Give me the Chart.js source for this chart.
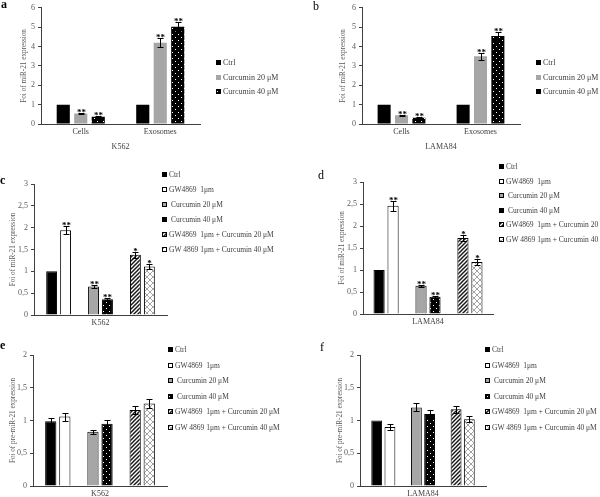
<!DOCTYPE html>
<html>
<head>
<meta charset="utf-8">
<script src="https://cdn.jsdelivr.net/npm/chart.js@4.4.1/dist/chart.umd.min.js"></script>
<style>
  body { margin: 0; background: #fff; }
  #wrap { position: relative; width: 600px; height: 497px; overflow: hidden; }
  #wrap canvas { position: absolute; }
  .tag { position: absolute; font-family: "Liberation Serif", serif; font-size: 12px; line-height: 12px; color: #000; }
</style>
</head>
<body>
<div id="wrap">
  <canvas id="chartA" width="300" height="160" style="left:0;top:0"></canvas>
  <canvas id="chartB" width="300" height="160" style="left:300px;top:0"></canvas>
  <canvas id="chartC" width="300" height="175" style="left:0;top:160px"></canvas>
  <canvas id="chartD" width="300" height="175" style="left:300px;top:160px"></canvas>
  <canvas id="chartE" width="300" height="162" style="left:0;top:335px"></canvas>
  <canvas id="chartF" width="300" height="162" style="left:300px;top:335px"></canvas>
  <div class="tag" style="left:1px;top:-2px;font-weight:bold">a</div>
  <div class="tag" style="left:313px;top:0px">b</div>
  <div class="tag" style="left:0px;top:174px;font-weight:bold">c</div>
  <div class="tag" style="left:318px;top:169px">d</div>
  <div class="tag" style="left:0px;top:339px;font-weight:bold">e</div>
  <div class="tag" style="left:320px;top:341px">f</div>
</div>
<script>
// panels a, b
const abCategories = ["Cells", "Exosomes"];
const abSeries = ["Ctrl", "Curcumin 20 μM", "Curcumin 40 μM"];
const aValues = [[1, 1], [0.54, 4.2], [0.37, 5.02]];
const aErrors = [[0, 0], [0.04, 0.22], [0.04, 0.24]];
const bValues = [[1, 1], [0.45, 3.5], [0.32, 4.54]];
const bErrors = [[0, 0], [0.03, 0.18], [0.03, 0.2]];
const abStars = [["", ""], ["**", "**"], ["**", "**"]];
const abTicks = [0, 1, 2, 3, 4, 5, 6];

// panels c - f
const cdefSeries = ["Ctrl", "GW4869  1μm", " Curcumin 20 μM", " Curcumin 40 μM",
  "GW4869  1μm + Curcumin 20 μM", "GW 4869 1μm + Curcumin 40 μM"];
const cValues = [1, 1.94, 0.65, 0.36, 1.38, 1.11];
const cErrors = [0, 0.09, 0.03, 0.02, 0.07, 0.06];
const dValues = [1, 2.46, 0.64, 0.39, 1.73, 1.18];
const dErrors = [0, 0.11, 0.03, 0.03, 0.07, 0.06];
const cdStars = ["", "**", "**", "**", "*", "*"];
const eValues = [0.99, 1.06, 0.83, 0.95, 1.16, 1.26];
const eErrors = [0.05, 0.06, 0.03, 0.06, 0.06, 0.07];
const fValues = [1, 0.9, 1.2, 1.1, 1.17, 1.02];
const fErrors = [0, 0.05, 0.06, 0.06, 0.05, 0.05];
const noStars = ["", "", "", "", "", ""];
const cdTicks = [0, 0.5, 1, 1.5, 2, 2.5, 3];
const efTicks = [0, 0.5, 1, 1.5, 2];

const FONT = '"Liberation Serif", "Times New Roman", serif';
const TXT = "#404040";
const AXIS = "#404040";

function pattern(size, draw) {
  const c = document.createElement("canvas");
  c.width = c.height = size;
  const x = c.getContext("2d");
  draw(x);
  return x.createPattern(c, "repeat");
}

const dots = pattern(6, (x) => {
  x.fillStyle = "#000"; x.fillRect(0, 0, 6, 6);
  x.fillStyle = "#fff"; x.fillRect(1, 1, 1, 1); x.fillRect(4, 4, 1, 1);
});
const hatch = pattern(4, (x) => {
  x.fillStyle = "#fff"; x.fillRect(0, 0, 4, 4);
  x.strokeStyle = "#1a1a1a"; x.lineWidth = 1.5;
  x.beginPath();
  x.moveTo(-1, 5); x.lineTo(5, -1);
  x.moveTo(-1, 1); x.lineTo(1, -1);
  x.moveTo(3, 5); x.lineTo(5, 3);
  x.stroke();
});
const lattice = pattern(6, (x) => {
  x.fillStyle = "#fff"; x.fillRect(0, 0, 6, 6);
  x.strokeStyle = "#8c8c8c"; x.lineWidth = 0.8;
  x.beginPath();
  x.moveTo(0, 0); x.lineTo(6, 6);
  x.moveTo(6, 0); x.lineTo(0, 6);
  x.stroke();
});

const abFills = ["#000", "#a6a6a6", dots];
const cdefFills = ["#000", "#fff", "#a6a6a6", dots, hatch, lattice];

const errorBars = {
  id: "errorBars",
  afterDatasetsDraw(chart) {
    const { ctx } = chart;
    const y = chart.scales.y;
    ctx.save();
    ctx.strokeStyle = "#000";
    ctx.lineWidth = 1;
    ctx.fillStyle = "#000";
    ctx.font = "bold 9px " + FONT;
    ctx.textAlign = "center";
    ctx.textBaseline = "alphabetic";
    chart.data.datasets.forEach((ds, i) => {
      if (!ds.errors) return;
      chart.getDatasetMeta(i).data.forEach((bar, j) => {
        const v = ds.data[j], e = ds.errors[j];
        const bx = Math.round(bar.x) + 0.5;
        let top = y.getPixelForValue(v);
        if (e > 0) {
          const hi = Math.round(y.getPixelForValue(v + e)) + 0.5;
          const lo = Math.round(y.getPixelForValue(v - e)) + 0.5;
          ctx.beginPath();
          ctx.moveTo(bx, hi); ctx.lineTo(bx, lo);
          ctx.moveTo(bx - 3, hi); ctx.lineTo(bx + 3, hi);
          ctx.moveTo(bx - 3, lo); ctx.lineTo(bx + 3, lo);
          ctx.stroke();
          top = hi;
        }
        if (ds.stars && ds.stars[j]) ctx.fillText(ds.stars[j], bx, top + 1);
      });
    });
    ctx.restore();
  },
};

const sideLegend = {
  id: "sideLegend",
  afterDraw(chart, args, opts) {
    const { ctx } = chart;
    ctx.save();
    ctx.font = opts.size + "px " + FONT;
    ctx.textBaseline = "middle";
    let k = 0;
    chart.data.datasets.forEach((ds) => {
      if (ds.spacer) return;
      const yy = Math.round(opts.y + k * opts.step);
      ctx.fillStyle = ds.backgroundColor;
      ctx.fillRect(opts.x, yy - 3, 5, 5);
      if (ds.borderWidth) {
        ctx.strokeStyle = "#000";
        ctx.lineWidth = 1;
        ctx.strokeRect(opts.x + 0.5, yy - 2.5, 4, 4);
      }
      ctx.fillStyle = TXT;
      ctx.fillText(ds.label, opts.x + 7, yy);
      k++;
    });
    ctx.restore();
  },
};

function abSets(values, errors) {
  return abSeries.map((name, i) => ({
    label: name,
    data: values[i],
    errors: errors[i],
    stars: abStars[i],
    backgroundColor: abFills[i],
    borderWidth: 0,
  }));
}

function groupSets(values, errors, stars) {
  const sets = [];
  cdefSeries.forEach((name, i) => {
    sets.push({
      label: name,
      data: [values[i]],
      errors: [errors[i]],
      stars: [stars[i]],
      backgroundColor: cdefFills[i],
      borderColor: "#000",
      borderWidth: 1,
    });
    if (i === 1 || i === 3) sets.push({ label: "", data: [null], spacer: true });
  });
  return sets;
}

function makeChart(id, cfg) {
  const yW = 30;
  return new Chart(document.getElementById(id), {
    type: "bar",
    data: { labels: cfg.labels, datasets: cfg.datasets },
    options: {
      responsive: false,
      animation: false,
      datasets: { bar: { categoryPercentage: cfg.catPct, barPercentage: cfg.barPct } },
      layout: { padding: { left: cfg.left - yW, right: cfg.w - cfg.right, top: cfg.top, bottom: 0 } },
      plugins: {
        legend: { display: false },
        tooltip: { enabled: false },
        sideLegend: cfg.legend,
      },
      scales: {
        x: {
          grid: { display: true, drawOnChartArea: false, drawTicks: false },
          border: { color: AXIS, width: 1 },
          ticks: { color: TXT, font: { family: FONT, size: 8 }, padding: 3 },
          title: {
            display: !!cfg.xTitle,
            text: cfg.xTitle || "",
            color: TXT,
            font: { family: FONT, size: 8 },
            padding: { top: 0, bottom: cfg.xTitlePad || 0 },
          },
          afterFit: (s) => { s.height = cfg.h - cfg.bottom; },
        },
        y: {
          min: 0,
          max: cfg.ticks[cfg.ticks.length - 1],
          afterBuildTicks: (s) => { s.ticks = cfg.ticks.map((v) => ({ value: v })); },
          grid: { display: true, drawOnChartArea: false, drawTicks: true, tickLength: 3, tickColor: AXIS },
          border: { color: AXIS, width: 1 },
          ticks: {
            color: "#595959",
            font: { family: FONT, size: 8 },
            padding: 3,
            callback: (v) => String(v).replace(".", ","),
          },
          title: {
            display: true,
            text: cfg.yTitle,
            color: "#595959",
            font: { family: FONT, size: 7.2 },
            padding: { top: cfg.yTitleX - (cfg.left - yW) - 4.3, bottom: 0 },
          },
          afterFit: (s) => { s.width = yW; },
        },
      },
    },
    plugins: [errorBars, sideLegend],
  });
}

makeChart("chartA", {
  labels: abCategories, datasets: abSets(aValues, aErrors), ticks: abTicks,
  w: 300, h: 160, left: 41, right: 200, top: 5, bottom: 124,
  catPct: 0.66, barPct: 0.75,
  yTitle: "Foi of miR-21 expression", yTitleX: 24,
  xTitle: "K562", xTitlePad: 8,
  legend: { x: 216, y: 63, step: 14.5, size: 8 },
});

makeChart("chartB", {
  labels: abCategories, datasets: abSets(bValues, bErrors), ticks: abTicks,
  w: 300, h: 160, left: 62, right: 220, top: 5, bottom: 124,
  catPct: 0.66, barPct: 0.75,
  yTitle: "Foi of miR-21 expression", yTitleX: 43,
  xTitle: "LAMA84", xTitlePad: 8,
  legend: { x: 236, y: 63, step: 14.5, size: 8 },
});

makeChart("chartC", {
  labels: ["K562"], datasets: groupSets(cValues, cErrors, cdStars), ticks: cdTicks,
  w: 300, h: 175, left: 34, right: 167, top: 24, bottom: 155,
  catPct: 0.84, barPct: 0.78,
  yTitle: "Foi of miR-21 expression", yTitleX: 13,
  legend: { x: 162, y: 15, step: 15, size: 7.5 },
});

makeChart("chartD", {
  labels: ["LAMA84"], datasets: groupSets(dValues, dErrors, cdStars), ticks: cdTicks,
  w: 300, h: 175, left: 63, right: 193, top: 22, bottom: 154,
  catPct: 0.86, barPct: 0.8,
  yTitle: "Foi of miR-21 expression", yTitleX: 42,
  legend: { x: 199, y: 7, step: 14.6, size: 7.5 },
});

makeChart("chartE", {
  labels: ["K562"], datasets: groupSets(eValues, eErrors, noStars), ticks: efTicks,
  w: 300, h: 162, left: 33, right: 167, top: 20, bottom: 151,
  catPct: 0.84, barPct: 0.8,
  yTitle: "Foi of pre-miR-21 expression", yTitleX: 13,
  legend: { x: 168, y: 15, step: 15.5, size: 7.5 },
});

makeChart("chartF", {
  labels: ["LAMA84"], datasets: groupSets(fValues, fErrors, noStars), ticks: efTicks,
  w: 300, h: 162, left: 60, right: 186, top: 20, bottom: 151,
  catPct: 0.84, barPct: 0.82,
  yTitle: "Foi of pre-miR-21 expression", yTitleX: 40,
  legend: { x: 185, y: 15, step: 15.5, size: 7.5 },
});
</script>
</body>
</html>
